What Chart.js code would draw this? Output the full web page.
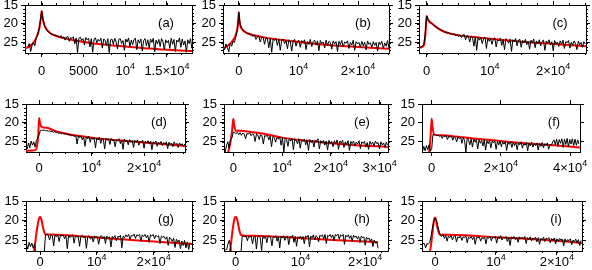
<!DOCTYPE html>
<html>
<head>
<meta charset="utf-8">
<script src="https://cdn.jsdelivr.net/npm/chart.js@4.4.1/dist/chart.umd.min.js"></script>
<style>
  body { margin: 0; background: #fff; width: 592px; height: 270px; overflow: hidden; position: relative; }
  .p { position: absolute; }
</style>
</head>
<body>
<script>
// ---- data ----
var letters = ['a', 'b', 'c', 'd', 'e', 'f', 'g', 'h', 'i'];

var xMin = [-2000, -2650, -1200, -2480, -1900, -2800, -2470, -1810, -2140];
var xMax = [18000, 25200, 25200, 27800, 31700, 42860, 26750, 23530, 24130];
var xMajor = [
  [0, 5000, 10000, 15000],
  [0, 10000, 20000],
  [0, 10000, 20000],
  [0, 10000, 20000],
  [0, 10000, 20000, 30000],
  [0, 20000, 40000],
  [0, 10000, 20000],
  [0, 10000, 20000],
  [0, 10000, 20000]
];
var xMinorStep = [5000 / 3, 2500, 2500, 2500, 2500, 0, 2500, 2500, 2500];
var yMinorStep = [1, 1, 1, 1, 1, 0, 1, 1, 1];
var yTicks = [15, 20, 25];
var yMin = 15, yMax = 27.7;

// black (observed) series: sampled from blackStart every blackStep
var blackStart = [-1650, -2400, -1100, -2250, -1680, -2660, -2400, -1800, -1980];
var blackStep = [165, 240, 220, 250, 280, 380, 240, 200, 220];

var blackA = [26.0, 25.2, 27.3, 25.6, 24.9, 25.8, 23.9, 23.0, 21.6, 19.2, 16.6, 18.8, 20.4, 21.2, 21.8, 22.2, 22.4, 22.8, 22.7, 23.1,
  22.9, 23.3, 23.2, 23.6, 23.1, 23.8, 23.4, 24.3, 23.5, 23.3, 24.6, 23.6, 23.9, 23.4, 25.3, 23.7, 27.6, 23.8, 23.5, 24.4,
  23.9, 25.6, 23.6, 24.2, 23.8, 26.1, 23.9, 27.5, 24.0, 23.7, 25.0, 24.1, 24.6, 23.8, 26.4, 24.0, 24.3, 25.7, 23.9, 27.6,
  24.2, 24.0, 25.4, 23.8, 24.7, 26.6, 24.1, 23.9, 25.2, 24.4, 27.0, 24.0, 24.8, 23.7, 26.0, 24.3, 25.5, 24.1, 23.8, 26.8,
  24.2, 25.1, 24.0, 27.2, 24.4, 23.9, 25.8, 24.2, 26.3, 24.0, 24.9, 23.8, 27.4, 24.3, 25.3, 24.1, 26.0, 23.9, 24.6, 26.9,
  24.2, 25.0, 24.4, 26.5, 23.8, 25.4, 24.1, 27.3, 24.3, 24.8, 23.7, 26.2, 24.0, 25.6, 24.5, 27.5, 24.2, 25.2, 23.9, 26.4, 24.6];
var blackB = [26.9, 25.3, 26.2, 27.4, 25.1, 25.9, 24.6, 24.9, 23.2, 21.5, 16.9, 20.2, 21.1, 21.6, 22.0, 22.2, 22.6, 22.5, 22.9, 23.0,
  23.3, 22.9, 24.1, 23.4, 23.2, 24.8, 23.6, 23.5, 25.4, 23.7, 23.9, 26.3, 23.8, 27.5, 24.0, 24.4, 23.9, 25.7, 24.1, 27.0,
  24.3, 24.0, 25.2, 24.4, 26.6, 24.2, 24.7, 27.2, 24.5, 24.1, 25.9, 24.6, 24.3, 26.2, 24.4, 25.0, 24.2, 26.8, 24.6, 25.4,
  24.1, 26.0, 24.7, 24.3, 25.6, 24.5, 27.1, 24.4, 25.2, 24.8, 26.4, 24.3, 25.7, 24.6, 24.9, 26.7, 24.5, 25.3, 24.7, 27.3,
  24.6, 25.5, 24.4, 26.1, 24.8, 25.1, 24.5, 26.5, 24.9, 25.6, 24.3, 27.0, 24.7, 25.3, 24.9, 26.2, 24.6, 25.8, 24.8, 26.9,
  24.5, 25.4, 25.0, 26.3, 24.7, 25.7, 24.9, 27.2, 24.8, 25.5, 24.6, 26.6, 25.0, 25.9, 24.4, 26.4];
var blackC = [26.2, 26.1, 25.9, 25.4, 22.6, 17.9, 18.7, 19.3, 19.7, 20.0, 20.4, 20.6, 20.9, 21.1, 21.4, 21.5, 21.8, 21.9, 22.2, 22.1,
  22.5, 22.3, 22.7, 22.6, 22.9, 22.6, 23.2, 22.8, 23.4, 22.9, 23.6, 23.0, 22.8, 24.2, 23.1, 23.3, 24.8, 23.2, 23.6, 25.9,
  23.4, 27.0, 23.5, 24.3, 23.6, 25.2, 23.8, 23.5, 26.5, 23.7, 24.6, 23.9, 25.4, 24.0, 23.7, 26.1, 24.1, 24.5, 23.8, 25.7,
  24.2, 26.8, 23.9, 24.4, 25.1, 24.0, 27.3, 24.2, 24.7, 23.9, 25.8, 24.3, 24.1, 26.2, 24.4, 25.0, 24.1, 25.5, 24.6, 26.7,
  24.3, 24.9, 24.0, 26.3, 24.5, 25.2, 24.2, 25.8, 24.6, 24.3, 27.0, 24.5, 25.1, 24.2, 25.6, 24.7, 27.1, 24.4, 25.3, 24.8,
  26.0, 24.5, 25.4, 24.3, 26.5, 24.7, 25.0, 24.4, 26.4, 24.8, 25.6, 24.5, 25.2, 26.8, 24.6, 25.5, 24.9, 26.2, 24.7, 25.3];
var blackD = [26.9, 25.3, 26.6, 24.8, 25.9, 25.0, 26.4, 24.6, 24.1, 23.2, 22.0, 21.9, 22.0, 21.9, 22.1, 22.0, 22.2, 22.1, 22.3, 22.2,
  22.5, 22.3, 22.6, 22.5, 22.8, 22.6, 22.9, 22.7, 23.0, 22.8, 23.1, 23.0, 23.3, 23.1, 23.5, 23.2, 23.7, 23.3, 25.6, 23.4,
  23.9, 23.5, 24.5, 23.6, 26.2, 23.7, 24.2, 23.6, 25.1, 23.8, 24.4, 23.9, 26.6, 24.0, 24.5, 23.8, 25.4, 24.1, 24.3, 26.9,
  24.0, 24.6, 24.2, 25.7, 24.1, 24.8, 24.3, 26.3, 24.4, 24.7, 24.2, 25.5, 24.5, 27.0, 24.3, 24.9, 24.6, 25.8, 24.4, 25.1,
  24.7, 26.5, 24.6, 25.0, 24.5, 25.9, 24.8, 25.2, 24.6, 26.7, 24.9, 25.3, 24.7, 25.6, 24.8, 27.1, 25.0, 25.4, 24.8, 26.2,
  25.1, 25.5, 24.9, 26.0, 25.2, 25.6, 25.0, 26.8, 25.1, 25.7, 25.3, 26.3, 25.0, 25.8, 25.4, 26.5, 25.3, 25.9, 25.5, 26.2, 25.6];
var blackE = [27.8, 26.1, 25.0, 26.7, 24.3, 24.0, 22.4, 22.6, 22.8, 22.5, 23.1, 22.6, 23.3, 22.7, 22.9, 24.2, 22.8, 23.0, 22.6, 23.4,
  22.9, 23.1, 24.9, 22.9, 23.2, 24.4, 23.1, 23.4, 25.6, 23.3, 23.6, 23.2, 24.5, 23.5, 26.3, 23.6, 23.9, 25.1, 23.8, 24.3,
  23.7, 25.9, 23.9, 27.7, 24.0, 24.4, 26.2, 24.1, 24.8, 24.0, 27.1, 24.3, 24.6, 25.5, 24.2, 26.7, 24.4, 24.9, 24.3, 25.8,
  24.5, 27.3, 24.4, 25.2, 24.6, 26.4, 24.5, 24.9, 24.2, 26.9, 24.7, 25.3, 24.6, 25.9, 24.8, 27.2, 24.6, 25.4, 24.9, 26.3,
  24.7, 25.6, 24.5, 27.0, 24.8, 25.3, 24.6, 26.5, 25.0, 25.7, 24.7, 27.3, 24.9, 25.5, 24.8, 26.1, 25.1, 25.6, 24.7, 26.8,
  25.0, 25.4, 24.9, 26.4, 25.2, 27.0, 24.9, 25.7, 25.1, 26.2, 24.8, 25.5, 25.2, 26.9, 25.0, 25.8, 25.3, 26.5, 25.1, 25.9];
var blackF = [27.6, 26.2, 27.4, 26.0, 27.1, 25.8, 27.5, 26.8, 23.0, 23.2, 23.1, 23.4, 23.2, 23.6, 23.3, 24.1, 23.4, 23.7, 23.3, 24.4,
  23.5, 23.8, 23.4, 24.6, 23.6, 23.9, 25.0, 23.7, 24.2, 23.8, 25.4, 23.9, 24.6, 27.7, 24.1, 24.5, 25.8, 24.2, 26.4, 24.3,
  25.1, 24.4, 26.9, 24.5, 25.4, 24.6, 26.1, 24.4, 27.2, 24.7, 25.5, 24.6, 26.6, 24.8, 25.3, 24.7, 27.0, 24.9, 25.8, 24.8,
  26.3, 25.0, 25.6, 24.9, 27.3, 25.1, 25.7, 25.0, 26.5, 25.2, 26.0, 25.1, 27.1, 25.3, 25.8, 25.0, 26.7, 25.4, 25.9, 25.2,
  27.4, 25.3, 26.1, 25.1, 26.4, 25.5, 26.0, 25.3, 27.2, 25.4, 26.2, 25.2, 26.6, 25.5, 25.9, 25.3, 27.0, 25.6, 26.1, 25.0,
  24.5, 25.8, 24.3, 26.2, 24.4, 25.4, 24.2, 26.5, 24.3, 25.7, 24.1, 26.3, 24.4, 25.6, 24.2, 26.0, 24.3, 25.9, 24.5, 25.6];
var blackG = [26.0, 27.2, 25.5, 26.6, 25.7, 27.0, 25.9, 28.5, 28.5, 28.5, 28.5, 28.5, 28.5, 28.5, 23.6, 23.4, 23.7, 24.9, 23.5, 23.8,
  26.4, 23.6, 24.1, 23.5, 25.3, 23.7, 23.9, 23.6, 24.6, 23.8, 27.1, 23.7, 24.3, 23.9, 23.6, 25.7, 23.8, 24.2, 23.9, 26.5,
  24.0, 23.7, 24.4, 23.9, 27.0, 24.1, 23.8, 24.7, 24.0, 25.4, 23.9, 24.2, 24.0, 26.0, 24.1, 23.8, 24.5, 24.0, 25.8, 23.9,
  24.3, 24.1, 26.7, 24.0, 24.4, 23.8, 25.1, 24.0, 24.2, 23.7, 26.9, 23.9, 24.3, 23.6, 24.1, 23.5, 24.8, 23.7, 23.9, 23.4,
  24.5, 23.6, 23.8, 23.5, 25.2, 23.6, 24.0, 23.5, 24.3, 23.7, 25.5, 23.6, 23.9, 23.5, 24.6, 23.7, 24.1, 23.8, 25.8, 23.9,
  24.2, 24.0, 24.7, 24.1, 26.3, 24.2, 24.6, 25.3, 24.4, 26.8, 24.7, 25.5, 24.9, 27.1, 25.2, 26.3, 25.0, 26.9, 25.4, 27.3, 25.6];
var blackH = [27.4, 27.4, 27.3, 26.0, 25.0, 26.6, 28.5, 28.5, 28.5, 28.5, 28.5, 28.5, 28.5, 28.5, 24.0, 23.9, 24.1, 23.9, 25.1, 24.0,
  24.2, 23.9, 25.9, 24.1, 24.0, 27.2, 24.1, 23.8, 24.4, 27.6, 24.0, 24.5, 23.9, 25.6, 24.1, 23.9, 24.3, 26.4, 24.0, 24.2,
  23.8, 25.2, 24.1, 26.9, 24.0, 24.4, 23.8, 25.0, 24.2, 23.9, 26.1, 24.0, 24.3, 23.7, 25.5, 24.0, 26.5, 24.1, 24.4, 23.9,
  24.8, 24.0, 25.9, 23.9, 24.2, 23.7, 26.7, 23.9, 24.3, 23.6, 24.9, 23.8, 24.1, 25.4, 23.7, 24.0, 23.6, 24.6, 23.5, 25.8,
  23.7, 24.0, 23.5, 24.3, 23.6, 25.1, 23.5, 23.8, 23.4, 24.7, 23.6, 23.9, 23.5, 26.0, 23.7, 24.1, 23.6, 24.5, 23.8, 25.2,
  23.7, 24.2, 23.9, 24.6, 24.0, 25.6, 23.9, 24.3, 24.1, 26.2, 24.2, 24.7, 24.4, 25.3, 24.6, 26.6, 24.9, 25.7, 25.4, 27.0];
var blackI = [25.8, 25.8, 26.9, 25.8, 25.9, 25.6, 24.0, 22.0, 20.2, 19.3, 19.9, 21.2, 22.6, 23.8, 24.0, 23.6, 24.5, 23.7, 25.2, 23.9,
  24.3, 23.8, 24.9, 24.0, 23.7, 25.4, 24.1, 24.4, 23.9, 25.0, 24.1, 24.3, 23.8, 25.6, 24.2, 24.5, 24.0, 24.8, 24.1, 26.0,
  24.2, 24.4, 24.0, 25.2, 24.3, 24.6, 24.1, 25.9, 24.2, 24.5, 23.9, 25.1, 24.2, 24.4, 24.0, 25.7, 24.1, 24.6, 23.8, 24.9,
  24.2, 24.4, 24.0, 25.3, 24.3, 26.3, 24.1, 24.6, 24.0, 24.8, 24.2, 25.5, 24.1, 24.5, 24.2, 24.7, 24.0, 25.8, 24.3, 24.8,
  24.1, 25.1, 24.4, 24.6, 24.2, 25.4, 24.3, 26.0, 24.5, 24.9, 24.2, 25.3, 24.4, 24.7, 24.3, 25.6, 24.5, 25.0, 24.4, 25.9,
  24.6, 25.2, 24.5, 24.9, 24.7, 26.4, 24.6, 25.3, 24.8, 25.1, 24.6, 26.1, 24.9, 25.4, 24.7, 25.6, 24.8, 26.3, 25.0];
var blackY = [blackA, blackB, blackC, blackD, blackE, blackF, blackG, blackH, blackI];

// red (model) curves
var redAX = [-2000, -1500, -1000, -600, -300, -100, 0, 100, 300, 600, 1000, 1500, 2500, 4000, 6000, 8000, 10000, 12000, 14000, 16000, 18000];
var redAY = [26.4, 26.0, 25.0, 23.4, 21.3, 18.5, 16.6, 18.3, 20.2, 21.5, 22.4, 23.0, 23.7, 24.4, 25.1, 25.6, 26.0, 26.4, 26.7, 27.0, 27.2];
var redBX = [-2650, -2000, -1200, -600, -250, -80, 0, 80, 250, 600, 1200, 2500, 4000, 6000, 8000, 10000, 13000, 16000, 20000, 25200];
var redBY = [26.6, 25.9, 24.8, 23.3, 21.4, 19.0, 16.9, 18.8, 20.4, 21.5, 22.3, 23.0, 23.5, 24.0, 24.4, 24.8, 25.3, 25.7, 26.1, 26.6];
var redCX = [-1200, -700, -400, -200, -80, 0, 150, 400, 1000, 2000, 3000, 4700, 7000, 10000, 15000, 20000, 25200];
var redCY = [26.3, 26.1, 25.5, 23.0, 20.0, 17.9, 18.6, 19.3, 20.1, 21.4, 22.2, 22.9, 23.4, 23.9, 24.7, 25.3, 25.9];
var redDX = [-2480, -1500, -700, -300, -100, 0, 200, 600, 1500, 3000, 5000, 7500, 10000, 15000, 20000, 25000, 27800];
var redDY = [27.4, 27.3, 27.2, 25.5, 22.0, 18.7, 20.2, 21.1, 21.3, 22.1, 22.8, 23.4, 23.9, 24.6, 25.2, 25.8, 26.1];
var redEX = [-1200, -900, -500, -200, 0, 150, 500, 1500, 3000, 6000, 10000, 15000, 20000, 25000, 30000, 31700];
var redEY = [28.5, 27.0, 24.5, 21.5, 18.9, 20.3, 22.1, 22.1, 22.3, 22.8, 23.9, 24.7, 25.4, 25.9, 26.2, 26.4];
var redFX = [-1200, -700, -400, -150, 0, 200, 700, 3000, 7000, 12000, 20000, 26000, 32000, 38000, 42800];
var redFY = [29.0, 27.8, 24.5, 21.0, 18.9, 20.8, 23.1, 23.3, 23.6, 24.1, 24.8, 25.3, 25.7, 26.1, 26.5];
var redGX = [-1100, -800, -500, -250, 0, 250, 500, 750, 1000, 2000, 5000, 10000, 15000, 20000, 26750];
var redGY = [28.5, 25.0, 21.8, 19.8, 19.0, 19.8, 21.5, 23.0, 23.5, 23.5, 23.7, 24.3, 24.8, 25.3, 25.9];
var redHX = [-950, -700, -450, -200, 0, 200, 450, 700, 900, 1500, 4000, 10000, 15000, 20000, 22000];
var redHY = [28.5, 25.5, 22.0, 19.6, 19.0, 19.6, 21.5, 23.3, 23.7, 23.8, 23.9, 24.4, 24.9, 25.3, 25.5];
var redIX = [-900, -600, -350, -150, 0, 150, 350, 600, 850, 2000, 5000, 10000, 15000, 20000, 24100];
var redIY = [28.5, 25.5, 22.0, 19.7, 19.2, 19.7, 21.5, 23.0, 23.6, 23.6, 23.7, 24.2, 24.6, 25.1, 25.7];
var redX = [redAX, redBX, redCX, redDX, redEX, redFX, redGX, redHX, redIX];
var redY = [redAY, redBY, redCY, redDY, redEY, redFY, redGY, redHY, redIY];

// ---- layout: frame box of each panel [left, right, top, bottom] in page px ----
var frames = [
  [25, 192, 5, 53], [223, 389, 5, 53], [419, 586, 5, 53],
  [26, 185, 104, 152], [224, 388, 104, 152], [422, 580, 104, 152],
  [26, 192, 201, 251], [224, 388, 201, 251], [422, 582, 201, 251]
];
var labelDrop = [22, 22, 22, 20, 20, 20, 15, 15, 15]; // x label baseline below frame
var PAD_L = 30, PAD_R = 14, PAD_T = 8, PAD_B = 24;
var FAMILY = "'Liberation Sans', Arial, Helvetica, sans-serif";
var FONT = { family: FAMILY, size: 13 };

// split an x tick value into base text and exponent
function fmtX(v) {
  if (v === 0) return ['0', ''];
  if (Math.abs(v) < 10000) return [String(v), ''];
  var m = v / 10000;
  return [m === 1 ? '10' : m + '\u00d710', '4'];
}

var extras = {
  id: 'extras',
  afterDraw: function(chart) {
    var o = chart.options.plugins.extras;
    var ctx = chart.ctx, a = chart.chartArea;
    ctx.save();
    ctx.strokeStyle = '#000';
    ctx.lineWidth = 1;
    ctx.beginPath();
    if (o.xMinor) {
      var sx = chart.scales.x;
      var k0 = Math.ceil(sx.min / o.xMinor);
      for (var k = k0; k * o.xMinor <= sx.max; k++) {
        var px = Math.round(sx.getPixelForValue(k * o.xMinor)) + 0.5;
        ctx.moveTo(px, a.bottom); ctx.lineTo(px, a.bottom + 2);
        ctx.moveTo(px, a.top); ctx.lineTo(px, a.top - 2);
      }
    }
    if (o.yMinor) {
      var sy = chart.scales.y;
      var j0 = Math.ceil(sy.min / o.yMinor);
      for (var j = j0; j * o.yMinor <= sy.max; j++) {
        var py = Math.round(sy.getPixelForValue(j * o.yMinor)) + 0.5;
        ctx.moveTo(a.left, py); ctx.lineTo(a.left - 2, py);
        ctx.moveTo(a.right, py); ctx.lineTo(a.right + 2, py);
      }
    }
    ctx.stroke();

    // x tick labels with a raised exponent
    ctx.fillStyle = '#000';
    ctx.textAlign = 'left';
    ctx.textBaseline = 'alphabetic';
    var base = a.bottom + o.labelDrop;
    o.majors.forEach(function(v) {
      var parts = fmtX(v);
      ctx.font = '13px ' + FAMILY;
      var wb = ctx.measureText(parts[0]).width;
      ctx.font = '9px ' + FAMILY;
      var ws = parts[1] ? ctx.measureText(parts[1]).width : 0;
      var x0 = chart.scales.x.getPixelForValue(v) - (wb + ws) / 2;
      ctx.font = '13px ' + FAMILY;
      ctx.fillText(parts[0], x0, base);
      if (parts[1]) {
        ctx.font = '9px ' + FAMILY;
        ctx.fillText(parts[1], x0 + wb, base - 6);
      }
    });

    ctx.font = '13px ' + FAMILY;
    ctx.textAlign = 'center';
    ctx.textBaseline = 'middle';
    ctx.fillText('(' + o.letter + ')', a.right - 26, a.top + 18);
    ctx.restore();
  }
};

function axisX(i, pos) {
  var majors = xMajor[i];
  return {
    type: 'linear', position: pos, min: xMin[i], max: xMax[i],
    afterBuildTicks: function(s) { s.ticks = majors.map(function(v) { return { value: v }; }); },
    ticks: { display: false },
    grid: { drawOnChartArea: false, drawTicks: true, tickLength: 4, color: '#000' },
    border: { display: true, color: '#000', width: 1 },
    afterFit: function(s) {
      s.height = pos === 'bottom' ? PAD_B : PAD_T;
      s.paddingLeft = 0; s.paddingRight = 0;
    }
  };
}

function axisY(i, pos) {
  return {
    type: 'linear', position: pos, reverse: true, min: yMin, max: yMax,
    afterBuildTicks: function(s) { s.ticks = yTicks.map(function(v) { return { value: v }; }); },
    ticks: { display: pos === 'left', padding: 3, color: '#000', font: FONT },
    grid: { drawOnChartArea: false, drawTicks: true, tickLength: 4, color: '#000' },
    border: { display: true, color: '#000', width: 1 },
    afterFit: function(s) {
      s.width = pos === 'left' ? PAD_L : PAD_R;
      s.paddingTop = 0; s.paddingBottom = 0;
    }
  };
}

for (var i = 0; i < 9; i++) {
  var f = frames[i];
  var div = document.createElement('div');
  div.className = 'p';
  div.style.left = (f[0] - PAD_L) + 'px';
  div.style.top = (f[2] - PAD_T) + 'px';
  div.style.width = (f[1] - f[0] + PAD_L + PAD_R) + 'px';
  div.style.height = (f[3] - f[2] + PAD_T + PAD_B) + 'px';
  var cv = document.createElement('canvas');
  div.appendChild(cv);
  document.body.appendChild(div);

  var black = [];
  for (var n = 0; n < blackY[i].length; n++) {
    black.push({ x: blackStart[i] + n * blackStep[i], y: blackY[i][n] });
  }
  var red = [];
  for (var m = 0; m < redX[i].length; m++) {
    red.push({ x: redX[i][m], y: redY[i][m] });
  }

  new Chart(cv, {
    type: 'line',
    data: {
      datasets: [{
        data: black,
        borderColor: '#000',
        borderWidth: 1,
        pointRadius: 0,
        tension: 0
      }, {
        data: red,
        borderColor: '#ff0000',
        borderWidth: 2,
        pointRadius: 0,
        cubicInterpolationMode: 'monotone'
      }]
    },
    options: {
      responsive: true,
      maintainAspectRatio: false,
      animation: false,
      layout: { padding: 0 },
      plugins: {
        legend: { display: false },
        tooltip: { enabled: false },
        extras: {
          letter: letters[i], xMinor: xMinorStep[i], yMinor: yMinorStep[i],
          majors: xMajor[i], labelDrop: labelDrop[i]
        }
      },
      scales: {
        x: axisX(i, 'bottom'),
        x2: axisX(i, 'top'),
        y: axisY(i, 'left'),
        y2: axisY(i, 'right')
      }
    },
    plugins: [extras]
  });
}
</script>
</body>
</html>
